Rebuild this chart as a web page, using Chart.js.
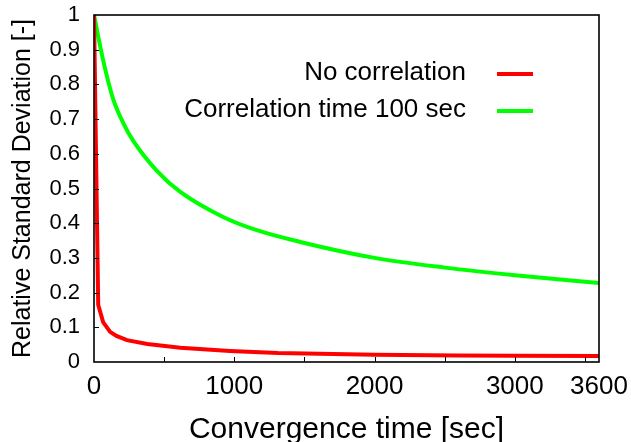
<!DOCTYPE html>
<html>
<head>
<meta charset="utf-8">
<script src="https://cdn.jsdelivr.net/npm/chart.js@4/dist/chart.umd.min.js"></script>
<style>
  html, body { margin: 0; padding: 0; background: #fff; }
  #wrap { width: 631px; height: 442px; }
</style>
</head>
<body>
<div id="wrap"><canvas id="chart" width="631" height="442"></canvas></div>
<script>
// values
const seriesNames = ["No correlation", "Correlation time 100 sec"];

const noCorrTime = [0, 30, 65, 115, 160, 235, 380, 615, 970, 1310, 2000, 2600, 3000, 3600];
const noCorrValue = [1, 0.165, 0.115, 0.087, 0.075, 0.063, 0.052, 0.041, 0.032, 0.026, 0.021, 0.019, 0.018, 0.017];

const corrTime = [0, 65, 135, 207, 280, 450, 615, 920, 1160, 1470, 2000, 2500, 3000, 3600];
const corrValue = [1, 0.87, 0.76, 0.69, 0.637, 0.55, 0.49, 0.418, 0.38, 0.346, 0.30, 0.272, 0.25, 0.228];

const xTickValues = [0, 1000, 2000, 3000, 3600];
const xMarkValues = [500, 1000, 1500, 2000, 2500, 3000, 3500];
const yTickLabels = ["0", "0.1", "0.2", "0.3", "0.4", "0.5", "0.6", "0.7", "0.8", "0.9", "1"];

function toPoints(xs, ys) {
  return xs.map((x, i) => ({ x: x, y: ys[i] }));
}

const fontName = "'Liberation Sans', Arial, sans-serif";

// keep the plot box where the reference has it
function noScalePadding(scale) {
  scale.paddingTop = 0;
  scale.paddingBottom = 0;
  scale.paddingLeft = 0;
  scale.paddingRight = 0;
}

// black frame round the plot plus inward tick marks
const framePlugin = {
  id: "frame",
  afterDatasetsDraw(chart) {
    const ctx = chart.ctx;
    const a = chart.chartArea;
    const xs = chart.scales.x;
    const ys = chart.scales.y;
    ctx.save();
    ctx.strokeStyle = "#000";
    ctx.lineWidth = 1;
    xMarkValues.forEach((v) => {
      const px = Math.round(xs.getPixelForValue(v)) + 0.5;
      ctx.beginPath();
      ctx.moveTo(px, a.bottom);
      ctx.lineTo(px, a.bottom - 5);
      ctx.stroke();
    });
    for (let i = 1; i < yTickLabels.length - 1; i++) {
      const py = Math.round(ys.getPixelForValue(i / 10)) + 0.5;
      ctx.beginPath();
      ctx.moveTo(a.left, py);
      ctx.lineTo(a.left + 5, py);
      ctx.stroke();
    }
    ctx.lineWidth = 1.6;
    ctx.strokeRect(a.left, a.top, a.right - a.left, a.bottom - a.top);
    ctx.restore();
  },
};

// legend with text on the left and the line sample on the right
const sideLegend = {
  id: "sideLegend",
  afterDraw(chart) {
    const ctx = chart.ctx;
    ctx.save();
    ctx.font = "26px " + fontName;
    ctx.textAlign = "right";
    ctx.textBaseline = "middle";
    chart.data.datasets.forEach((ds, i) => {
      const y = 73 + i * 37;
      ctx.fillStyle = "#000";
      ctx.fillText(ds.label, 466, y);
      ctx.strokeStyle = ds.borderColor;
      ctx.lineWidth = 4;
      ctx.beginPath();
      ctx.moveTo(497, y + 1);
      ctx.lineTo(533, y + 1);
      ctx.stroke();
    });
    ctx.restore();
  },
};

const chartData = {
  datasets: [
    {
      label: seriesNames[0],
      data: toPoints(noCorrTime, noCorrValue),
      borderColor: "#ff0000",
      borderWidth: 4,
      pointRadius: 0,
      tension: 0,
    },
    {
      label: seriesNames[1],
      data: toPoints(corrTime, corrValue),
      borderColor: "#00ff00",
      borderWidth: 4,
      pointRadius: 0,
      cubicInterpolationMode: "monotone",
    },
  ],
};

const chartConfig = {
  type: "line",
  data: chartData,
  plugins: [framePlugin, sideLegend],
  options: {
    responsive: false,
    animation: false,
    layout: { padding: { left: 0, top: 15, right: 32, bottom: 0 } },
    scales: {
      x: {
        type: "linear",
        min: 0,
        max: 3600,
        afterBuildTicks: (scale) => {
          scale.ticks = xTickValues.map((v) => ({ value: v }));
        },
        afterFit: (scale) => {
          scale.height = 80;
          noScalePadding(scale);
        },
        grid: { display: false, drawTicks: false },
        border: { display: false },
        ticks: {
          autoSkip: false,
          maxRotation: 0,
          padding: 9,
          color: "#000",
          font: { family: fontName, size: 26 },
          callback: (v) => String(v),
        },
        title: {
          display: true,
          text: "Convergence time [sec]",
          color: "#000",
          font: { family: fontName, size: 30, lineHeight: 0.85 },
          padding: { top: 0, bottom: 0 },
        },
      },
      y: {
        min: 0,
        max: 1,
        afterFit: (scale) => {
          scale.width = 94;
          noScalePadding(scale);
        },
        grid: { display: false, drawTicks: false },
        border: { display: false },
        ticks: {
          stepSize: 0.1,
          padding: 14,
          color: "#000",
          font: { family: fontName, size: 22 },
          callback: (v, i) => yTickLabels[i],
        },
        title: {
          display: true,
          text: "Relative Standard Deviation [-]",
          color: "#000",
          font: { family: fontName, size: 25, lineHeight: 1 },
          padding: { top: 11, bottom: 0 },
        },
      },
    },
    plugins: {
      legend: { display: false },
      tooltip: { enabled: false },
    },
  },
};

const chart = new Chart("chart", chartConfig);
</script>
</body>
</html>
